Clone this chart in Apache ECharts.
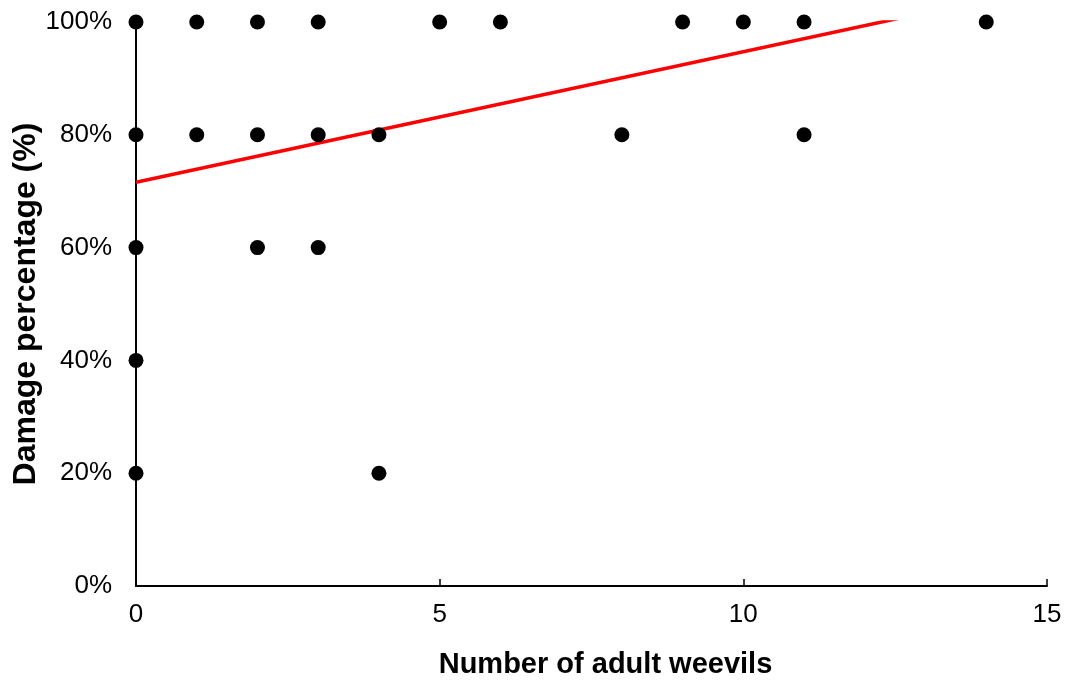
<!DOCTYPE html>
<html>
<head>
<meta charset="utf-8">
<script src="https://cdn.jsdelivr.net/npm/echarts@6/dist/echarts.min.js"></script>
<style>
  html, body { margin: 0; padding: 0; background: #fff; }
  #chart { width: 1067px; height: 682px; }
</style>
</head>
<body>
<div id="chart"></div>
<script>
// Observations: number of adult weevils vs. damage percentage
const weevils = [0, 0, 0, 0, 0, 1, 1, 2, 2, 2, 3, 3, 3, 4, 4, 5, 6, 8, 9, 10, 11, 11, 14];
const damage  = [100, 80, 60, 40, 20, 100, 80, 100, 80, 60, 100, 80, 60, 80, 20, 100, 100, 80, 100, 100, 100, 80, 100];

// Linear trend line endpoints (x, y%); clipped at the top of the plot
const trendX = [0, 15];
const trendY = [71.6, 106.3];

const xTicks = { min: 0, max: 15, interval: 5 };
const yTicks = { min: 0, max: 100, interval: 20 };

const points = weevils.map((x, i) => [x, damage[i]]);
const trend = trendX.map((x, i) => [x, trendY[i]]);

const FONT = '"Liberation Sans", Arial, sans-serif';

const chart = echarts.init(document.getElementById('chart'), null, { renderer: 'canvas' });
chart.setOption({
  animation: false,
  backgroundColor: '#ffffff',
  grid: { left: 136, right: 20, top: 22, bottom: 96, containLabel: false, outerBoundsMode: 'none' },
  xAxis: {
    type: 'value',
    min: xTicks.min, max: xTicks.max, interval: xTicks.interval,
    name: 'Number of adult weevils',
    nameLocation: 'middle',
    nameGap: 64,
    nameMoveOverlap: false,
    nameTextStyle: { fontFamily: FONT, fontSize: 29, fontWeight: 'bold', color: '#000', padding: [0, 0, 0, 28] },
    axisLine: { show: true, lineStyle: { color: '#000', width: 2 } },
    axisTick: { show: true, inside: true, length: 7, lineStyle: { color: '#000', width: 1.5 } },
    axisLabel: { fontFamily: FONT, fontSize: 26, color: '#000', margin: 16 },
    splitLine: { show: false }
  },
  yAxis: {
    type: 'value',
    min: yTicks.min, max: yTicks.max, interval: yTicks.interval,
    name: 'Damage percentage (%)',
    nameLocation: 'middle',
    nameGap: 94,
    nameMoveOverlap: false,
    nameRotate: 90,
    nameTextStyle: { fontFamily: FONT, fontSize: 32, fontWeight: 'bold', color: '#000' },
    axisLine: { show: true, lineStyle: { color: '#000', width: 2 } },
    axisTick: { show: false },
    axisLabel: { fontFamily: FONT, fontSize: 26, color: '#000', margin: 24, formatter: '{value}%' },
    splitLine: { show: false }
  },
  series: [
    {
      type: 'line',
      data: trend,
      symbol: 'none',
      clip: true,
      lineStyle: { color: '#ff0000', width: 3.5 },
      z: 2
    },
    {
      type: 'scatter',
      data: points,
      symbol: 'circle',
      symbolSize: 15,
      itemStyle: { color: '#000', opacity: 1 },
      clip: false,
      z: 3
    }
  ]
});
</script>
</body>
</html>
